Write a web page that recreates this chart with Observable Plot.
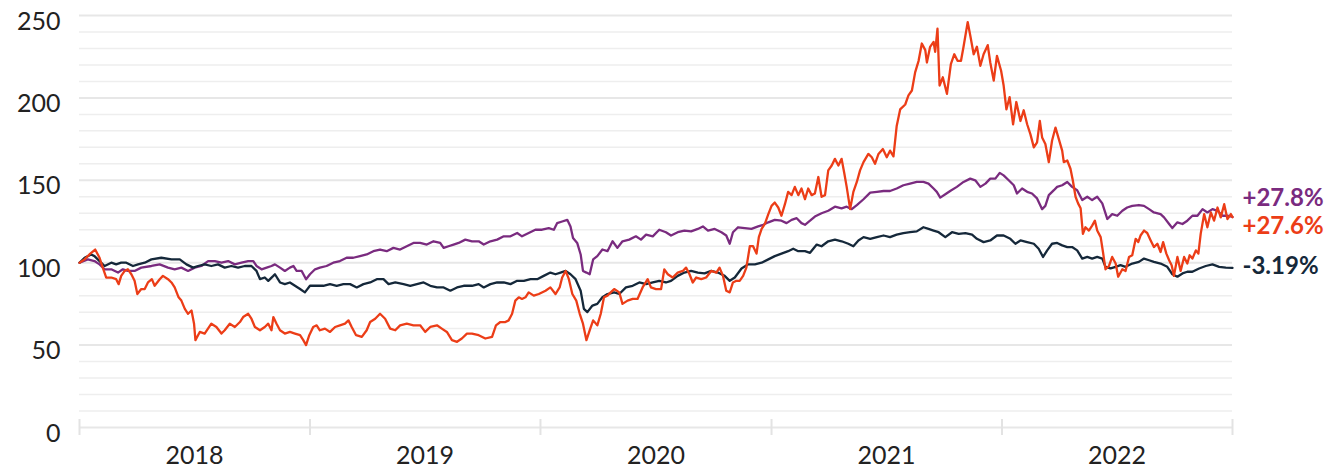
<!DOCTYPE html>
<html>
<head>
<meta charset="utf-8">
<script src="https://cdn.jsdelivr.net/npm/d3@7"></script>
<script src="https://cdn.jsdelivr.net/npm/@observablehq/plot@0.6"></script>
<style>
  html, body { margin: 0; padding: 0; background: #ffffff; }
  #chart { width: 1337px; height: 470px; }
</style>
</head>
<body>
<div id="chart"></div>
<script>
// ---------- DATA (times are years elapsed since 2018-01-01) ----------
const yearLabels = ["2018", "2019", "2020", "2021", "2022"];
const yMajorTicks = [0, 50, 100, 150, 200, 250];
const yMinorTicks = [10, 20, 30, 40, 60, 70, 80, 90, 110, 120, 130, 140, 160, 170, 180, 190, 210, 220, 230, 240];

const seriesNames = ["purple", "orange", "navy"];
const seriesColors = ["#7a2b7f", "#ec3d17", "#15283a"];
const endLabels = ["+27.8%", "+27.6%", "-3.19%"];

const orangeT = [0.000,0.022,0.043,0.068,0.087,0.101,0.116,0.138,0.159,0.170,0.181,0.196,0.210,0.225,0.239,0.251,0.268,0.283,0.297,0.314,0.326,0.348,0.362,0.384,0.399,0.413,0.430,0.442,0.457,0.471,0.486,0.497,0.503,0.522,0.543,0.572,0.594,0.616,0.630,0.652,0.674,0.696,0.710,0.732,0.746,0.761,0.783,0.804,0.819,0.833,0.841,0.855,0.870,0.891,0.913,0.935,0.957,0.971,0.983,0.997,1.014,1.029,1.043,1.065,1.087,1.109,1.130,1.152,1.167,1.181,1.200,1.225,1.246,1.261,1.283,1.304,1.326,1.348,1.370,1.391,1.420,1.449,1.478,1.500,1.522,1.551,1.572,1.594,1.616,1.638,1.659,1.681,1.703,1.732,1.761,1.790,1.807,1.826,1.848,1.862,1.877,1.891,1.906,1.920,1.935,1.949,1.971,1.993,2.022,2.043,2.065,2.083,2.094,2.109,2.123,2.138,2.155,2.170,2.184,2.199,2.213,2.228,2.246,2.261,2.275,2.290,2.304,2.319,2.341,2.355,2.377,2.399,2.420,2.442,2.464,2.478,2.500,2.522,2.536,2.551,2.572,2.594,2.616,2.630,2.645,2.659,2.674,2.696,2.717,2.739,2.761,2.775,2.790,2.804,2.819,2.833,2.848,2.862,2.877,2.891,2.906,2.920,2.935,2.945,2.957,2.971,2.986,3.000,3.014,3.029,3.043,3.058,3.072,3.087,3.101,3.116,3.130,3.145,3.159,3.174,3.188,3.203,3.217,3.232,3.246,3.261,3.275,3.290,3.304,3.316,3.326,3.341,3.355,3.370,3.384,3.399,3.420,3.435,3.449,3.464,3.483,3.500,3.514,3.529,3.543,3.558,3.580,3.594,3.609,3.623,3.638,3.652,3.667,3.674,3.688,3.703,3.710,3.720,3.729,3.743,3.761,3.778,3.793,3.807,3.822,3.833,3.851,3.862,3.877,3.891,3.906,3.920,3.938,3.949,3.964,3.978,3.996,4.007,4.019,4.033,4.048,4.062,4.080,4.094,4.109,4.123,4.138,4.152,4.164,4.174,4.188,4.203,4.217,4.232,4.261,4.268,4.283,4.297,4.307,4.319,4.330,4.341,4.351,4.362,4.377,4.391,4.403,4.413,4.428,4.438,4.449,4.464,4.478,4.493,4.504,4.522,4.536,4.551,4.565,4.580,4.591,4.601,4.616,4.630,4.645,4.659,4.674,4.688,4.699,4.713,4.725,4.736,4.746,4.761,4.775,4.790,4.804,4.814,4.826,4.841,4.852,4.862,4.877,4.891,4.906,4.920,4.935,4.949,4.964,4.978,4.993,5.000];
const orangeV = [100,102,105,108,103,97,91,91,90,87,92,95,96,93,89,81,84,84,88,90,86,90,92,90,88,85,79,77,72,69,71,63,53,58,57,63,61,57,59,63,61,64,67,69,66,61,59,61,63,59,67,63,59,57,58,57,56,53,50,56,61,62,59,60,58,61,62,63,65,61,56,55,59,64,66,69,66,60,59,62,63,62,62,58,61,62,60,58,53,52,54,57,57,56,54,55,62,64,64,65,69,77,79,78,79,82,80,81,83,85,81,85,91,95,90,81,77,69,63,53,59,65,62,69,79,80,82,84,82,75,77,78,78,85,90,85,84,84,96,93,91,94,95,97,93,88,91,90,91,95,94,97,92,83,82,88,89,89,92,97,110,110,105.5,115.5,120.5,123.5,129.5,134.5,136.5,133.5,128.5,135.5,143,141,146,141,145,138.5,145,141,142,152,140,141,156,159,163,159,163,154,146,132.5,143,149,156,161,166,164,160,166,169,164,168,164.5,183,193,196,201.5,204.5,215.5,222.5,233,229,221.5,231,234,228,242,207.5,212.5,202.5,220.5,226.5,222.5,222.5,231,246,238,226.5,231,219.5,226.5,232,221.5,210.5,225.5,216.5,207.5,193,200.5,184,197.5,186,192.5,184,178,170,173,186,176,172,161,174,182,168,161,162,157,150,140,136,133,117.5,121.5,119.5,122.5,125.5,119.5,115.5,106.5,96,98,103.5,99.5,91.5,96,95,103.5,104.5,114.5,112.5,116.5,119.5,118,113.5,109.5,111.5,106.5,112.5,105.5,101.5,98.5,92,103.5,95,103.5,99.5,104.5,102.5,107.5,105.5,117.5,129.5,121.5,130.5,125.5,133.5,127.5,135.5,126.5,129.5,127.6];

const purpleT = [0.000,0.036,0.065,0.087,0.109,0.138,0.167,0.188,0.210,0.239,0.268,0.312,0.348,0.384,0.413,0.442,0.471,0.500,0.529,0.558,0.587,0.616,0.645,0.674,0.703,0.732,0.754,0.768,0.790,0.812,0.833,0.848,0.870,0.891,0.913,0.928,0.942,0.964,0.983,1.000,1.022,1.043,1.072,1.101,1.130,1.159,1.188,1.217,1.246,1.275,1.304,1.333,1.362,1.391,1.420,1.449,1.478,1.507,1.536,1.565,1.580,1.601,1.623,1.645,1.674,1.703,1.732,1.754,1.783,1.812,1.841,1.870,1.899,1.920,1.949,1.978,2.007,2.036,2.058,2.072,2.094,2.116,2.130,2.141,2.159,2.174,2.184,2.199,2.213,2.228,2.246,2.268,2.290,2.312,2.333,2.355,2.384,2.413,2.435,2.457,2.486,2.514,2.543,2.565,2.594,2.623,2.652,2.681,2.703,2.725,2.754,2.783,2.804,2.819,2.833,2.855,2.884,2.913,2.942,2.964,2.986,3.014,3.043,3.065,3.087,3.109,3.130,3.145,3.167,3.188,3.217,3.246,3.275,3.304,3.326,3.348,3.370,3.399,3.428,3.457,3.486,3.514,3.543,3.572,3.601,3.630,3.659,3.681,3.703,3.717,3.732,3.754,3.775,3.804,3.833,3.862,3.884,3.906,3.928,3.949,3.971,3.990,4.007,4.029,4.051,4.065,4.087,4.109,4.130,4.152,4.174,4.188,4.203,4.225,4.239,4.261,4.283,4.304,4.326,4.348,4.370,4.391,4.413,4.435,4.457,4.478,4.500,4.522,4.543,4.565,4.594,4.616,4.638,4.659,4.688,4.703,4.725,4.739,4.761,4.783,4.804,4.826,4.848,4.870,4.891,4.913,4.935,4.957,4.978,5.000];
const purpleV = [100,102,101,99,96,96,94,96,95,95,97,98,99,97,96,97,95,97,98,101,101,100,101,99,100,101,101,98,96,97,98,99,97,95,97,98,95,95,90,93,96,97,98,100,101,103,103,104,105,107,108,107,109,108,110,112,112,111,113,112,109,110,111,112,114,113,113,111,113,114,116,116,118,116,118,120,120,121,120,124,125,126,122,115,112,105,95,94,93,102,104,108,107,113,109,113,114,116,114,117,116,120,118.5,116.5,118.5,119.5,119,120.5,122,119.5,120.5,118.5,116.5,111.5,118.5,121.5,121,120.5,122,123,124.5,126,125.5,124,126,127,124,123,125.5,128,130,131.5,134,133,134,132.5,135,138.5,142.5,143,143.5,143.5,145,147,148,149,149,148,145,143,139.5,141.5,143.5,146,149,151,150,146,148,151,151,154.5,153,150,147,142,145,143,142,139,132.5,134.5,141,144,146,147,149,146,144,138,140,138,140,136,126.5,129.5,128.5,131.5,133.5,134.5,135,134.5,132.5,130.5,129.5,127.5,123.5,121,124.5,123.5,125.5,128.5,128.5,132.5,130.5,132.5,131.5,128.5,128.5,127.8];

const navyT = [0.000,0.022,0.051,0.065,0.087,0.109,0.138,0.159,0.181,0.203,0.232,0.254,0.283,0.312,0.355,0.399,0.435,0.464,0.493,0.514,0.543,0.572,0.601,0.630,0.659,0.688,0.717,0.746,0.768,0.783,0.804,0.819,0.841,0.848,0.870,0.891,0.913,0.935,0.957,0.978,1.000,1.029,1.058,1.087,1.116,1.145,1.174,1.203,1.232,1.261,1.290,1.319,1.341,1.370,1.406,1.435,1.464,1.493,1.522,1.551,1.580,1.609,1.638,1.667,1.703,1.732,1.754,1.783,1.812,1.841,1.870,1.899,1.928,1.957,1.986,2.014,2.043,2.065,2.087,2.109,2.130,2.152,2.174,2.188,2.203,2.225,2.246,2.268,2.290,2.319,2.341,2.370,2.399,2.428,2.457,2.486,2.514,2.543,2.565,2.594,2.623,2.652,2.681,2.710,2.739,2.768,2.797,2.819,2.841,2.870,2.899,2.928,2.957,2.986,3.014,3.043,3.072,3.094,3.116,3.145,3.167,3.196,3.217,3.246,3.275,3.304,3.333,3.355,3.377,3.399,3.428,3.457,3.486,3.514,3.543,3.572,3.601,3.630,3.659,3.681,3.703,3.725,3.754,3.783,3.812,3.841,3.870,3.891,3.920,3.949,3.978,4.007,4.036,4.058,4.080,4.109,4.138,4.159,4.178,4.196,4.217,4.239,4.261,4.283,4.304,4.326,4.348,4.370,4.391,4.413,4.435,4.449,4.471,4.493,4.514,4.536,4.565,4.594,4.616,4.638,4.659,4.688,4.717,4.739,4.761,4.783,4.804,4.826,4.855,4.884,4.913,4.942,4.971,5.000];
const navyV = [100,103,105,104,101,98,100,99,100,100,98,99,100,102,103,102,102,99,97,98,99,98,99,97,98,97,98,98,95,90,91,89,92,93,88,87,88,86,84,82,86,86,86,87,86,87,87,85,87,88,90,90,87,88,87,86,87,88,86,85,85,83,85,86,86,87,85,87,88,88,87,89,89,90,90,92,94,93,94,95,93,90,83,72,70,74,75,79,81,82,81,85,86,88,87,88,89,88,89,92,94,95,94,93.5,95,94,92,89,91,96.5,99,99,100,102,104,105.5,107,108.5,107,107,106,111,110,113,114,113,111.5,110,113.5,115.5,114.5,115.5,116.5,115.5,117,118,118.5,119,121.5,120.5,119.5,118.5,115.5,118.5,117.5,118,117,114.5,112.5,113.5,116.5,116.5,114.5,111.5,113.5,112.5,111.5,108.5,103.5,107.5,111.5,112,110.5,109.5,109.5,107.5,102.5,103.5,102.5,103.5,102.5,97.5,96.5,97.5,98.5,97.5,99.5,100.5,102.5,101.5,100.5,99.5,97.5,93,91.5,93.5,94.5,94.5,96.5,98,99,97.5,97,96.81];

// ---------- BUILD ----------
function toDate(t) {
  const y = 2018 + Math.floor(t);
  const a = Date.UTC(y, 0, 1), b = Date.UTC(y + 1, 0, 1);
  return new Date(a + (t - Math.floor(t)) * (b - a));
}
const seriesT = {purple: purpleT, orange: orangeT, navy: navyT};
const seriesV = {purple: purpleV, orange: orangeV, navy: navyV};
const rows = {};
for (const s of seriesNames) rows[s] = seriesT[s].map((t, i) => ({series: s, date: toDate(t), value: seriesV[s][i]}));

const yearStarts = yearLabels.map(y => new Date(Date.UTC(+y, 0, 1))).concat([new Date(Date.UTC(+yearLabels[yearLabels.length - 1] + 1, 0, 1))]);
const yearMids = yearLabels.map(y => new Date(Date.UTC(+y, 6, 2)));

const colorOf = s => seriesColors[seriesNames.indexOf(s)];
const labelDy = {purple: -19, orange: 9, navy: -2};

const marks = [
  Plot.ruleY(yMinorTicks, {stroke: "#eeeeee", strokeWidth: 1.5}),
  Plot.ruleY(yMajorTicks, {stroke: "#e7e7e7", strokeWidth: 2}),
  Plot.ruleX(yearStarts, {x: d => d, y1: 0, y2: 0, insetTop: -8, insetBottom: -8, stroke: "#e3e3e3", strokeWidth: 2}),
  Plot.axisY(yMajorTicks, {tickSize: 0, tickPadding: 19, fontSize: 25, fill: "#222", dy: 6, label: null}),
  Plot.axisX(yearMids, {tickSize: 0, tickPadding: 19, fontSize: 25, fill: "#222", tickFormat: d3.utcFormat("%Y"), label: null})
];
for (const s of ["purple", "navy", "orange"]) {
  marks.push(Plot.line(rows[s], {x: "date", y: "value", stroke: colorOf(s), strokeWidth: 2.3, strokeLinejoin: "round"}));
}
for (const s of seriesNames) {
  const last = rows[s][rows[s].length - 1];
  marks.push(Plot.text([last], {
    x: "date", y: "value", text: () => endLabels[seriesNames.indexOf(s)],
    fill: colorOf(s), dx: 10, dy: labelDy[s], textAnchor: "start",
    fontSize: 24, fontWeight: 700
  }));
}

const chart = Plot.plot({
  width: 1337,
  height: 470,
  marginLeft: 79,
  marginRight: 105,
  marginTop: 15,
  marginBottom: 43,
  style: {fontFamily: "Lato, 'Open Sans', sans-serif", fontSize: "25px", color: "#222", background: "#ffffff", overflow: "visible"},
  x: {type: "utc", domain: [yearStarts[0], yearStarts[yearStarts.length - 1]], label: null},
  y: {domain: [0, 250], label: null},
  marks
});
document.getElementById("chart").appendChild(chart);
</script>
</body>
</html>
